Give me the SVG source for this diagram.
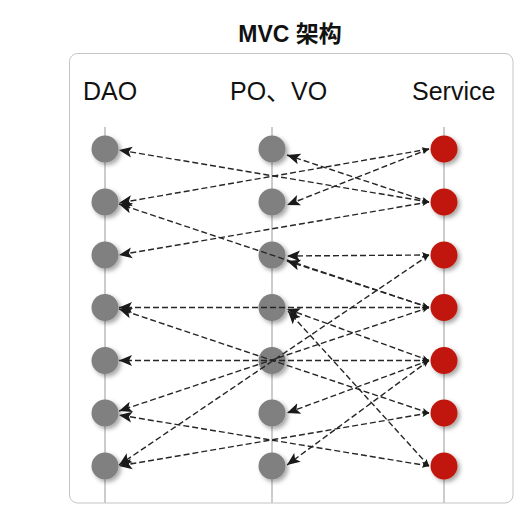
<svg xmlns="http://www.w3.org/2000/svg" width="525" height="513" viewBox="0 0 525 513">
<defs>
<style>
.title{font-family:"Liberation Sans","Noto Sans CJK SC",sans-serif;font-size:23px;font-weight:bold;fill:#111}
.col{font-family:"Liberation Sans","Noto Sans CJK SC",sans-serif;font-size:25px;fill:#111}
.axis{stroke:#cccccc;stroke-width:2}
.n{fill:#808080;filter:url(#sh)}
.s{fill:#c0190a;filter:url(#sh)}
.e{stroke:#262626;stroke-width:1.4;stroke-dasharray:6 3;fill:none;marker-end:url(#big);marker-start:url(#small)}
</style>
<filter id="sh" x="-50%" y="-50%" width="200%" height="200%">
<feDropShadow dx="2.5" dy="2.5" stdDeviation="2" flood-color="#000" flood-opacity="0.35"/>
</filter>
<marker id="big" markerUnits="userSpaceOnUse" markerWidth="14" markerHeight="12" refX="13" refY="6" orient="auto">
<path d="M0,0.5 L13,6 L0,11.5 L3,6 Z" fill="#1a1a1a"/>
</marker>
<marker id="small" markerUnits="userSpaceOnUse" markerWidth="8" markerHeight="7" refX="7" refY="3.5" orient="auto-start-reverse">
<path d="M0,0.5 L7,3.5 L0,6.5 L1.5,3.5 Z" fill="#1a1a1a"/>
</marker>
</defs>
<rect width="525" height="513" fill="#fff"/>
<text class="title" x="290" y="42" text-anchor="middle">MVC 架构</text>
<rect x="69.5" y="53.5" width="443.5" height="449.5" rx="8" fill="#fff" stroke="#c4c4c4"/>
<g id="labels">
<text class="col" x="83" y="100">DAO</text>
<text class="col" x="230" y="100">PO、VO</text>
<text class="col" x="412" y="100">Service</text>
</g>
<g id="axes">
<line class="axis" x1="105" y1="127" x2="105" y2="503"/>
<line class="axis" x1="272" y1="127" x2="272" y2="503"/>
<line class="axis" x1="444" y1="127" x2="444" y2="503"/>
</g>
<g id="dao">
<g id="D1"><circle class="n" cx="105" cy="149" r="13.5"/></g>
<g id="D2"><circle class="n" cx="105" cy="202" r="13.5"/></g>
<g id="D3"><circle class="n" cx="105" cy="255" r="13.5"/></g>
<g id="D4"><circle class="n" cx="105" cy="307.5" r="13.5"/></g>
<g id="D5"><circle class="n" cx="105" cy="360.5" r="13.5"/></g>
<g id="D6"><circle class="n" cx="105" cy="413" r="13.5"/></g>
<g id="D7"><circle class="n" cx="105" cy="466" r="13.5"/></g>
</g>
<g id="po">
<g id="P1"><circle class="n" cx="272" cy="149" r="13.5"/></g>
<g id="P2"><circle class="n" cx="272" cy="202" r="13.5"/></g>
<g id="P3"><circle class="n" cx="272" cy="255" r="13.5"/></g>
<g id="P4"><circle class="n" cx="272" cy="307.5" r="13.5"/></g>
<g id="P5"><circle class="n" cx="272" cy="360.5" r="13.5"/></g>
<g id="P6"><circle class="n" cx="272" cy="413" r="13.5"/></g>
<g id="P7"><circle class="n" cx="272" cy="466" r="13.5"/></g>
</g>
<g id="service">
<g id="S1"><circle class="s" cx="444" cy="149" r="13.5"/></g>
<g id="S2"><circle class="s" cx="444" cy="202" r="13.5"/></g>
<g id="S3"><circle class="s" cx="444" cy="255" r="13.5"/></g>
<g id="S4"><circle class="s" cx="444" cy="307.5" r="13.5"/></g>
<g id="S5"><circle class="s" cx="444" cy="360.5" r="13.5"/></g>
<g id="S6"><circle class="s" cx="444" cy="413" r="13.5"/></g>
<g id="S7"><circle class="s" cx="444" cy="466" r="13.5"/></g>
</g>
<g id="connectors">
<line class="e" x1="429" y1="202" x2="119" y2="150"/>
<line class="e" x1="429" y1="149" x2="119" y2="203"/>
<line class="e" x1="429" y1="307.5" x2="119" y2="204"/>
<line class="e" x1="429" y1="202" x2="119" y2="255"/>
<line class="e" x1="429" y1="307.5" x2="119" y2="307.5"/>
<line class="e" x1="429" y1="413" x2="119" y2="309"/>
<line class="e" x1="429" y1="360.5" x2="119" y2="360.5"/>
<line class="e" x1="429" y1="307.5" x2="119" y2="411"/>
<line class="e" x1="429" y1="466" x2="119" y2="415"/>
<line class="e" x1="429" y1="255" x2="119" y2="465"/>
<line class="e" x1="429" y1="413" x2="119" y2="466"/>
<line class="e" x1="429" y1="202" x2="287" y2="155"/>
<line class="e" x1="429" y1="149" x2="287" y2="205"/>
<line class="e" x1="429" y1="255" x2="287" y2="256"/>
<line class="e" x1="429" y1="307.5" x2="287" y2="261"/>
<line class="e" x1="429" y1="466" x2="288" y2="311"/>
<line class="e" x1="429" y1="360.5" x2="287" y2="309"/>
<line class="e" x1="429" y1="360.5" x2="287" y2="413"/>
<line class="e" x1="429" y1="360.5" x2="287" y2="465"/>
</g>
</svg>
